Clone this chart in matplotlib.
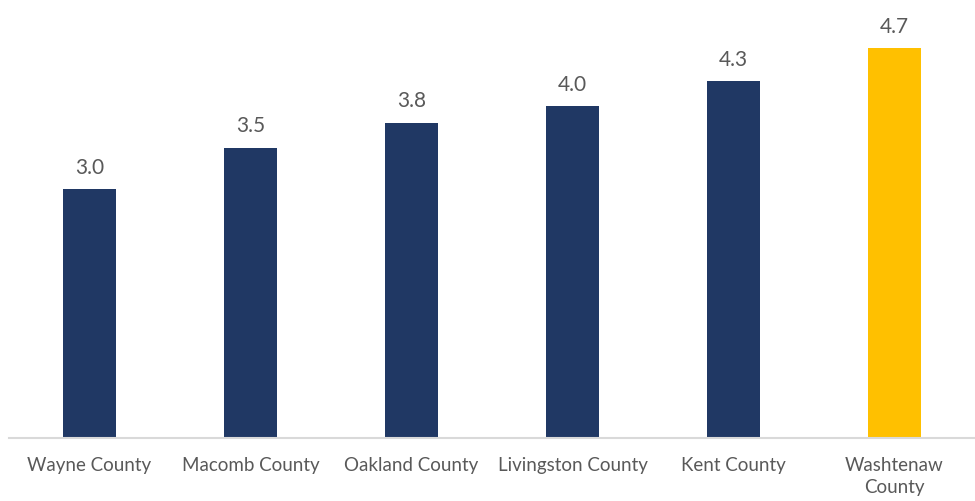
import matplotlib
matplotlib.use("Agg")
import matplotlib.pyplot as plt
import numpy as np

counties = ["Wayne County", "Macomb County", "Oakland County",
            "Livingston County", "Kent County", "Washtenaw\nCounty"]
values = [3.0, 3.5, 3.8, 4.0, 4.3, 4.7]
value_labels = ["3.0", "3.5", "3.8", "4.0", "4.3", "4.7"]

NAVY = "#203864"
GOLD = "#FFC000"
TEXT = "#595959"

plt.rcParams['font.family'] = ['Lato', 'DejaVu Sans']

fig = plt.figure(figsize=(9.75, 5.01), dpi=100)
ax = fig.add_axes([9 / 975, 1 - 438 / 501, 1 - 9 / 975, (438 - 23) / 501])

x = np.arange(len(counties))
colors = [NAVY] * (len(counties) - 1) + [GOLD]
bars = ax.bar(x, values, width=0.325, color=colors)

for b, lab in zip(bars, value_labels):
    ax.annotate(lab, (b.get_x() + b.get_width() / 2, b.get_height()),
                xytext=(0, 8), textcoords="offset points",
                ha="center", va="bottom", fontsize=15, color=TEXT)

ax.set_xlim(-0.5, len(counties) - 0.5)
ax.set_ylim(0, 5.0)
ax.set_xticks(x)
ax.set_xticklabels(counties, fontsize=13.5, color=TEXT, linespacing=1.35)
ax.tick_params(axis="x", length=0, pad=14)
ax.set_yticks([])
for s in ["top", "right", "left"]:
    ax.spines[s].set_visible(False)
ax.spines["bottom"].set_color("#D9D9D9")
ax.spines["bottom"].set_linewidth(1.5)

fig.savefig("out.png", dpi=100)
